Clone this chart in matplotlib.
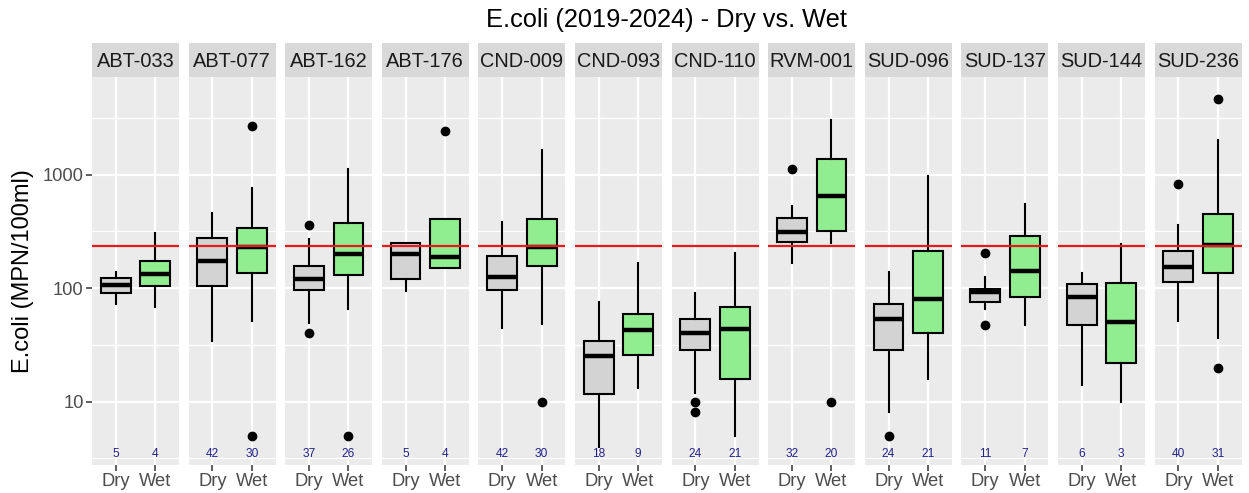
import matplotlib
matplotlib.use("Agg")
import matplotlib.pyplot as plt
from matplotlib.ticker import FixedLocator, NullFormatter

plt.rcParams['font.family'] = ['Liberation Sans', 'DejaVu Sans']

# values (MPN/100ml)
sites = ['ABT-033', 'ABT-077', 'ABT-162', 'ABT-176', 'CND-009', 'CND-093',
         'CND-110', 'RVM-001', 'SUD-096', 'SUD-137', 'SUD-144', 'SUD-236']
groups = ['Dry', 'Wet']

dry_lo = [72, 34, 49, 95, 45, 4.0, 12, 167, 8.1, 65, 14, 51]
dry_q1 = [91, 104, 97, 120, 96, 11.7, 28.5, 256, 28.5, 75, 47, 114]
dry_med = [106, 173, 121, 198, 126, 25, 40, 313, 53, 92, 83, 152]
dry_q3 = [122, 279, 156, 250, 191, 34, 53, 416, 73, 99, 108, 212]
dry_hi = [139, 460, 270, 250, 384, 76, 91, 526, 139, 126, 135, 363]
dry_out = [[], [], [363, 40], [], [], [], [10, 8.1], [1130], [5.0], [202, 47], [], [822]]
dry_n = [5, 42, 37, 5, 42, 18, 24, 32, 24, 11, 6, 40]

wet_lo = [68, 51, 65, 151, 48, 13.1, 5.0, 252, 16, 47, 10, 36.6]
wet_q1 = [105, 135, 130, 151, 156, 26, 15.8, 317, 40, 83, 22, 136]
wet_med = [132, 231, 198, 189, 228, 43, 44, 649, 80, 142, 50, 239]
wet_q3 = [173, 340, 376, 410, 404, 59, 68, 1365, 213, 289, 111, 454]
wet_hi = [307, 764, 1114, 410, 1636, 165, 202, 3050, 966, 545, 247, 2005]
wet_out = [[], [2660, 5.0], [5.0], [2440], [10], [], [], [10], [], [], [], [4670, 20]]
wet_n = [4, 30, 26, 4, 30, 9, 21, 20, 21, 7, 3, 31]

threshold = 235
count_y = 3.45

W, H = 1249, 493
fig = plt.figure(figsize=(W / 100, H / 100), dpi=100)

left, pw, gap = 92, 87, 9.6
p_top, p_bot, s_top = 77, 465, 43

for i, site in enumerate(sites):
    x0 = left + i * (pw + gap)
    ax = fig.add_axes([x0 / W, 1 - p_bot / H, pw / W, (p_bot - p_top) / H])
    ax.set_facecolor('#EBEBEB')
    for s in ax.spines.values():
        s.set_visible(False)

    stats = [
        dict(med=dry_med[i], q1=dry_q1[i], q3=dry_q3[i], whislo=dry_lo[i],
             whishi=dry_hi[i], fliers=dry_out[i]),
        dict(med=wet_med[i], q1=wet_q1[i], q3=wet_q3[i], whislo=wet_lo[i],
             whishi=wet_hi[i], fliers=wet_out[i]),
    ]
    bp = ax.bxp(stats, positions=[1, 2], widths=0.75, patch_artist=True,
                showcaps=False, manage_ticks=False,
                boxprops=dict(edgecolor='black', linewidth=1.5),
                whiskerprops=dict(color='black', linewidth=1.5),
                medianprops=dict(color='black', linewidth=3.2),
                flierprops=dict(marker='o', markerfacecolor='black',
                                markeredgecolor='black', markersize=6))
    for patch, fc in zip(bp['boxes'], ['#D3D3D3', '#90EE90']):
        patch.set_facecolor(fc)
        patch.set_zorder(2)

    ax.set_yscale('log')
    ax.set_ylim(2.77, 7230)
    ax.set_xlim(0.4, 2.6)
    ax.set_xticks([1, 2])
    ax.set_xticklabels(groups)

    ax.yaxis.set_major_locator(FixedLocator([10, 100, 1000]))
    ax.yaxis.set_minor_locator(FixedLocator([10 ** 0.5, 10 ** 1.5, 10 ** 2.5, 10 ** 3.5]))
    ax.yaxis.set_minor_formatter(NullFormatter())
    ax.grid(True, which='major', color='white', linewidth=1.6, zorder=0)
    ax.grid(True, which='minor', axis='y', color='white', linewidth=0.8, zorder=0)
    ax.set_axisbelow(True)
    ax.tick_params(axis='y', which='minor', length=0)
    ax.tick_params(axis='both', which='major', length=4, width=1.1, color='#333333',
                   labelcolor='#4D4D4D', labelsize=13.2, pad=2)
    if i == 0:
        ax.set_yticklabels(['10', '100', '1000'])
        ax.set_ylabel('E.coli (MPN/100ml)', fontsize=17, color='black', labelpad=6)
    else:
        ax.tick_params(axis='y', which='major', length=0, labelleft=False)

    ax.axhline(threshold, color='#E41A1C', linewidth=1.6, zorder=3)

    for xpos, n in zip([1, 2], [dry_n[i], wet_n[i]]):
        ax.text(xpos, count_y, str(n), ha='center', va='center',
                fontsize=8.6, color='#22228A')

    sax = fig.add_axes([x0 / W, 1 - p_top / H, pw / W, (p_top - s_top) / H])
    sax.set_facecolor('#D9D9D9')
    sax.set_xticks([])
    sax.set_yticks([])
    for s in sax.spines.values():
        s.set_visible(False)
    sax.text(0.5, 0.45, site, ha='center', va='center', fontsize=14.4,
             color='#1A1A1A', transform=sax.transAxes)

fig.text(667 / W, 1 - 20 / H, 'E.coli (2019-2024) - Dry vs. Wet', ha='center',
         va='center', fontsize=18.3, color='black')

fig.savefig('out.png', dpi=100)
